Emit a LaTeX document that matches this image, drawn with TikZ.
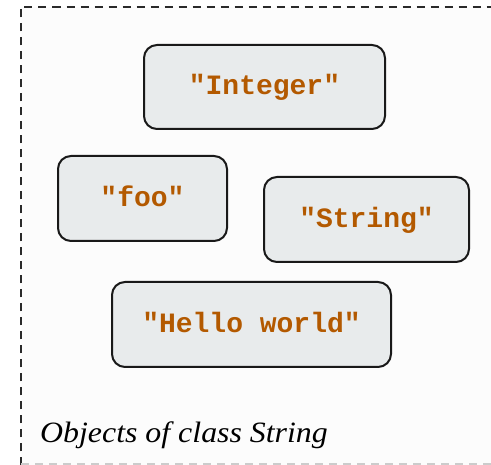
\documentclass[tikz,border=0pt]{standalone}
\usepackage{fontspec}
\setmainfont{Liberation Serif}
\newfontfamily\codefont{Liberation Mono}
\definecolor{strfill}{HTML}{E8EBEC}
\definecolor{strtext}{HTML}{B35900}
\definecolor{frameline}{HTML}{2A2A2A}
\begin{document}
\begin{tikzpicture}[x=1pt,y=-1pt,
  strobj/.style={draw=black!90, line width=2pt, fill=strfill, rounded corners=13pt,
    inner sep=0pt, text height=16pt, text depth=0pt, text=strtext,
    font=\codefont\bfseries\fontsize{28}{32}\selectfont},
  groupframe/.style={draw=frameline, line width=2.2pt, dash pattern=on 8pt off 6pt}]
  \useasboundingbox (0,0) rectangle (491,465);
  \fill[white!99!black] (21,7) rectangle (491,465);
  \draw[groupframe] (21,465.5) -- (21,7) -- (520,7);
  \draw[groupframe, draw=black!20] (21,464.5) -- (520,464.5);
  \node[strobj, minimum width=241pt, minimum height=84pt] (integer) at (264.5,87) {"Integer"};
  \node[strobj, minimum width=169pt, minimum height=85pt] (foo) at (142.5,198.5) {"foo"};
  \node[strobj, minimum width=205pt, minimum height=85pt] (string) at (366.5,219.5) {"String"};
  \node[strobj, minimum width=279pt, minimum height=85pt] (hello) at (251.5,324.5) {"Hello world"};
  \node[anchor=base west, inner sep=0pt, font=\itshape\fontsize{29.5}{34}\selectfont] (caption) at (40,443) {\scalebox{1.08}[1]{Objects of class String}};
\end{tikzpicture}
\end{document}
